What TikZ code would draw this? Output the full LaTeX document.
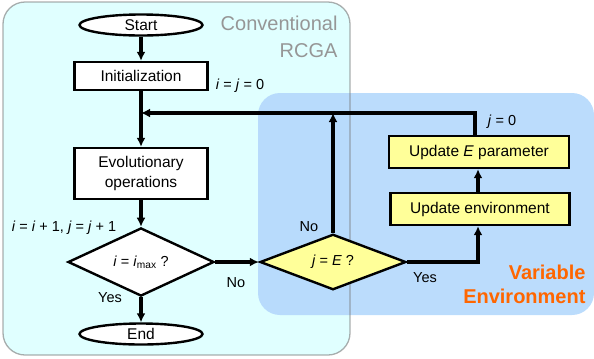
\documentclass[tikz,border=0pt]{standalone}
\usepackage{fontspec}
\setmainfont{Liberation Sans}
\usetikzlibrary{shapes.geometric,arrows.meta,calc}
\definecolor{cyanbg}{RGB}{224,255,255}
\definecolor{bluebg}{RGB}{180,216,252}
\definecolor{yel}{RGB}{255,255,153}
\definecolor{grayt}{RGB}{150,150,150}
\definecolor{orng}{RGB}{255,102,0}
\begin{document}
\begin{tikzpicture}[x=1bp,y=-1bp,
  nodefont/.style={font=\fontsize{15.5bp}{20bp}\selectfont},
  lblfont/.style={font=\fontsize{14.5bp}{17bp}\selectfont},
  procbox/.style={draw=black,line width=2.4bp,rectangle,inner sep=0pt,nodefont,align=center},
  term/.style={draw=black,line width=2.4bp,ellipse,inner sep=0pt,minimum width=123bp,minimum height=21bp,fill=white,nodefont},
  decide/.style={draw=black,line width=2.4bp,diamond,inner sep=0pt,minimum width=146bp,minimum height=45bp,lblfont},
  flow/.style={line width=3.2bp,-{Latex[length=9bp,width=9bp]}},
]
\useasboundingbox (0,0) rectangle (594,358);
% background regions
\fill[cyanbg,rounded corners=22bp] (3,2) rectangle (350,355);
\fill[bluebg,opacity=0.9,rounded corners=22bp] (258,93) rectangle (594,315);
\draw[grayt!80!black,line width=1.3bp,opacity=0.6,rounded corners=22bp] (3,2) rectangle (350,355);
% titles
\node[text=grayt,align=right,anchor=east,font=\fontsize{20bp}{27bp}\selectfont] (conv) at (341,37) {Conventional\\RCGA};
\node[text=orng,align=right,anchor=east,font=\bfseries\fontsize{20bp}{24bp}\selectfont] (varenv) at (589,284) {Variable\\Environment};
% nodes
\node[term] (start) at (141,25) {Start};
\node[procbox,fill=white,minimum width=133bp,minimum height=28bp] (init) at (141,76) {Initialization};
\node[procbox,fill=white,minimum width=133bp,minimum height=51bp] (evo) at (141,173.5) {Evolutionary\\operations};
\node[decide,fill=white] (d1) at (141,262) {\textit{i} = \textit{i}\textsubscript{max} ?};
\node[term] (end) at (141,334) {End};
\node[decide,fill=yel] (d2) at (333,262) {\textit{j} = \textit{E} ?};
\node[procbox,fill=yel,minimum width=179bp,minimum height=32bp] (uenv) at (480,209) {Update environment};
\node[procbox,fill=yel,minimum width=180bp,minimum height=32bp] (ue) at (479,152) {Update \textit{E} parameter};
\coordinate (join) at (141,113);
\coordinate (corner) at (475,113);
\coordinate (d2top) at (333,113);
\coordinate (yescorner) at (478,262);
% connectors
\draw[flow] (start) -- (init);
\draw[flow] (init) -- (evo);
\draw[flow] (evo) -- (d1);
\draw[flow] (d1) -- (end);
\draw[flow] (d1) -- (d2);
\draw[flow] (d2.north) -- (d2top);
\draw[flow] (d2.east) -- (yescorner) -- (uenv.south -| yescorner);
\draw[flow] (uenv.north -| yescorner) -- (ue.south -| yescorner);
\draw[flow] (ue.north -| corner) -- (corner) -- (join);
% labels
\node[lblfont] (l1) at (240,86) {\textit{i} = \textit{j} = 0};
\node[lblfont] (l2) at (64,228) {\textit{i} = \textit{i} + 1, \textit{j} = \textit{j} + 1};
\node[lblfont] (l3) at (110,298) {Yes};
\node[lblfont] (l4) at (236,283) {No};
\node[lblfont] (l5) at (309,227) {No};
\node[lblfont] (l6) at (425,278) {Yes};
\node[lblfont] (l7) at (502,122) {\textit{j} = 0};
\end{tikzpicture}
\end{document}
